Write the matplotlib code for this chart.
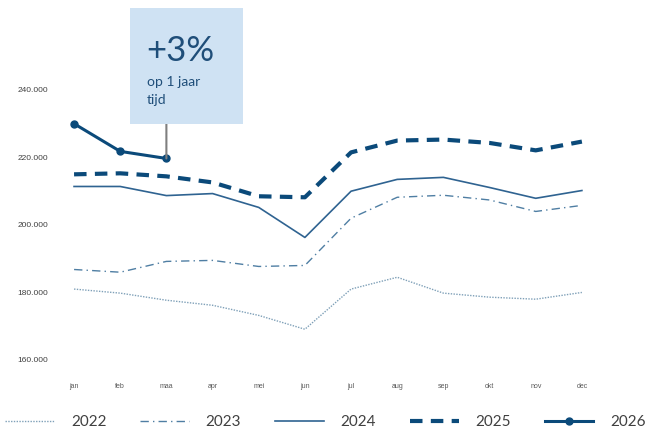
import matplotlib.pyplot as plt
from matplotlib.patches import Rectangle

# maanden en waarden per jaar
maanden = ['jan', 'feb', 'maa', 'apr', 'mei', 'jun', 'jul', 'aug', 'sep', 'okt', 'nov', 'dec']
v2022 = [181000, 179800, 177700, 176200, 173200, 169100, 181000, 184500, 179800, 178600, 178000, 180000]
v2023 = [186800, 186000, 189200, 189500, 187700, 188000, 202000, 208200, 208800, 207400, 204000, 205800]
v2024 = [211400, 211400, 208700, 209300, 205200, 196300, 210000, 213500, 214100, 211100, 207900, 210200]
v2025 = [215000, 215300, 214400, 212600, 208500, 208200, 221500, 225000, 225300, 224300, 222100, 224700]
v2026 = [230000, 221800, 219700]
yticks = [160000, 180000, 200000, 220000, 240000]

donker = '#0b4a7a'

fig = plt.figure(figsize=(6.51, 4.32), dpi=100)
ax = fig.add_axes([0.0783, 0.1199, 0.851, 0.6875])

x = range(len(maanden))
ax.plot(x, v2022, color='#7fa0b8', lw=1.0, ls=(0, (1, 1)), label='2022')
ax.plot(x, v2023, color='#4f7ea3', lw=1.0, ls=(0, (6, 3, 1, 3)), label='2023')
ax.plot(x, v2024, color='#2f6391', lw=1.2, label='2024')
ax.plot(x, v2025, color=donker, lw=3.0, ls=(0, (3, 2)), label='2025')
ax.plot(range(len(v2026)), v2026, color=donker, lw=2.2, marker='o', ms=5, label='2026')

ax.set_xlim(-0.5, 11.5)
ax.set_ylim(154000, 242000)
ax.set_xticks(list(x))
ax.set_xticklabels(maanden, fontsize=5, color='#595959', family='Liberation Sans')
ax.set_yticks(yticks)
ax.set_yticklabels([f'{v:,}'.replace(',', '.') for v in yticks], fontsize=6,
                   color='#404040', family='Liberation Sans')
ax.tick_params(length=0, pad=2)
for s in ax.spines.values():
    s.set_visible(False)

# tekstvak met verbindingslijn
fig.patches.append(Rectangle((0.1997, 0.713), 0.1736, 0.268, transform=fig.transFigure,
                             facecolor='#cfe2f3', edgecolor='none', zorder=0))
fig.text(0.224, 0.882, '+3%', fontsize=25, color='#1f4e79', family='Lato', va='center')
fig.text(0.226, 0.81, 'op 1 jaar', fontsize=10, color='#1f4e79', family='Lato', va='center')
fig.text(0.226, 0.768, 'tijd', fontsize=10, color='#1f4e79', family='Lato', va='center')
ax.annotate('', xy=(2, v2026[2]), xytext=(2, 0.713), textcoords=('data', 'figure fraction'),
            arrowprops=dict(arrowstyle='-', color='#7f7f7f', lw=1.5, shrinkA=0, shrinkB=0))

handles, labels = ax.get_legend_handles_labels()
leg = fig.legend(handles, labels, loc='center', bbox_to_anchor=(0.5, 0.023), ncol=5,
                 frameon=False, handlelength=3.2, columnspacing=2.2, handletextpad=1.1,
                 prop={'family': 'Lato', 'size': 11})
for t in leg.get_texts():
    t.set_color('#404040')

fig.savefig('out.png', dpi=100)
